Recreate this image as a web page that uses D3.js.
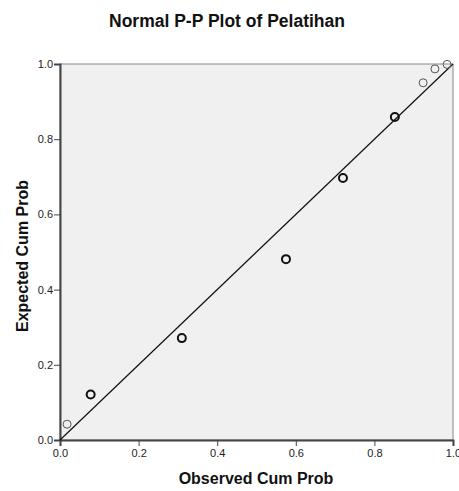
<!DOCTYPE html>
<html>
<head>
<meta charset="utf-8">
<script src="https://cdn.jsdelivr.net/npm/d3@7"></script>
<style>
  body { margin: 0; background: #fff; }
  svg { font-family: "Liberation Sans", Arial, sans-serif; }
</style>
</head>
<body>
<div id="chart"></div>
<script>
// Observed vs expected cumulative probabilities
const observed = [0.018, 0.078, 0.310, 0.575, 0.720, 0.852, 0.924, 0.954, 0.985];
const expected = [0.042, 0.121, 0.271, 0.481, 0.697, 0.859, 0.950, 0.987, 0.999];
// bold markers = several cases at the same value
const repeated = [false, true, true, true, true, true, false, false, false];
const tickValues = [0, 0.2, 0.4, 0.6, 0.8, 1.0];

const width = 459, height = 491;
const margin = { top: 64, right: 6, bottom: 51, left: 60 };

const svg = d3.select("#chart").append("svg")
  .attr("width", width)
  .attr("height", height);

const x = d3.scaleLinear().domain([0, 1]).range([margin.left, width - margin.right]);
const y = d3.scaleLinear().domain([0, 1]).range([height - margin.bottom, margin.top]);

// plot background
svg.append("rect")
  .attr("x", x(0)).attr("y", y(1))
  .attr("width", x(1) - x(0)).attr("height", y(0) - y(1))
  .attr("fill", "#f0f0f0")
  .attr("stroke", "#888").attr("stroke-width", 1);

// axes
const fmt = d3.format(".1f");
const xAxis = svg.append("g")
  .attr("transform", `translate(0,${y(0)})`)
  .call(d3.axisBottom(x).tickValues(tickValues).tickFormat(fmt).tickSize(6).tickPadding(3));
const yAxis = svg.append("g")
  .attr("transform", `translate(${x(0)},0)`)
  .call(d3.axisLeft(y).tickValues(tickValues).tickFormat(fmt).tickSize(6).tickPadding(1));

[xAxis, yAxis].forEach(g => {
  g.select(".domain").attr("stroke", "#444").attr("stroke-width", 2);
  g.selectAll(".tick line").attr("stroke", "#444").attr("stroke-width", 1);
  g.selectAll(".tick text").attr("fill", "#222").style("font-size", "11px");
});

// reference line
svg.append("line")
  .attr("x1", x(0)).attr("y1", y(0))
  .attr("x2", x(1)).attr("y2", y(1))
  .attr("stroke", "#111").attr("stroke-width", 1.2);

// points
svg.append("g").selectAll("circle")
  .data(observed.map((o, i) => ({ o, e: expected[i], rep: repeated[i] })))
  .join("circle")
  .attr("cx", d => x(d.o))
  .attr("cy", d => y(d.e))
  .attr("r", 4)
  .attr("fill", "none")
  .attr("stroke", d => d.rep ? "#111" : "#555")
  .attr("stroke-width", d => d.rep ? 2 : 1);

// titles
svg.append("text")
  .attr("x", 227).attr("y", 27)
  .attr("text-anchor", "middle")
  .style("font-size", "17.5px").style("font-weight", "bold")
  .attr("fill", "#111")
  .text("Normal P-P Plot of Pelatihan");

svg.append("text")
  .attr("x", 256).attr("y", 484)
  .attr("text-anchor", "middle")
  .style("font-size", "16px").style("font-weight", "bold")
  .attr("fill", "#111")
  .text("Observed Cum Prob");

svg.append("text")
  .attr("transform", `translate(28,256) rotate(-90)`)
  .attr("text-anchor", "middle")
  .style("font-size", "16px").style("font-weight", "bold")
  .attr("fill", "#111")
  .text("Expected Cum Prob");
</script>
</body>
</html>
